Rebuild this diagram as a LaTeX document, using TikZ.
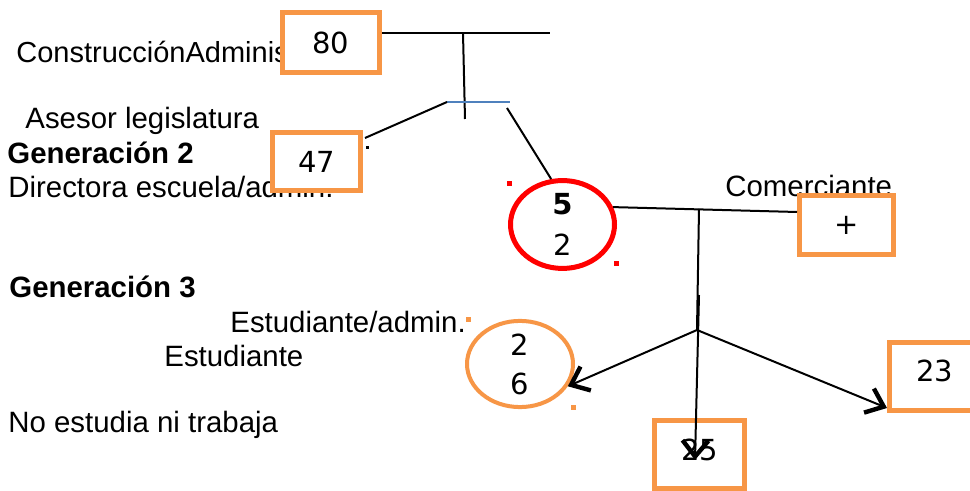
\documentclass[tikz,border=0pt]{standalone}
\usepackage{fontspec}
\setmainfont{Liberation Sans}
\newfontfamily\numfont{DejaVu Sans}
\usetikzlibrary{arrows.meta,shapes.geometric}
\definecolor{boxorange}{HTML}{F79646}
\definecolor{linkblue}{HTML}{4F81BD}

\begin{document}
\begin{tikzpicture}[x=0.5pt,y=-0.5pt,
		lbl/.style={anchor=base west,inner sep=0pt,font=\fontsize{14.7}{17}\selectfont},
		numbox/.style={draw=boxorange,line width=2.5pt,fill=white,inner sep=0pt,font=\numfont\fontsize{14.5}{17}\selectfont},
		numoval/.style={ellipse,fill=white,inner sep=0pt,align=center},
		link/.style={line width=1pt},
		barb/.style={link,-{Straight Barb[length=8pt,width=13pt,line width=2.2pt]}},
		dot/.style={inner sep=0pt,minimum size=2.5pt,fill}]
		%%%%% START %%%%%
		\useasboundingbox (0,0) rectangle (970,491);
		
		% texts
		\node[lbl,font=\fontsize{14.5}{17}\selectfont] (cons) at (16,63) {ConstrucciónAdminis};
		\node[lbl] (asesor) at (25,129) {Asesor legislatura};
		\node[lbl,font=\bfseries\fontsize{14.7}{17}\selectfont] (gen2) at (7,164) {Generación 2};
		\node[lbl] (directora) at (8,198) {Directora escuela/admin.};
		\node[lbl] (comerciante) at (725,197) {Comerciante};
		\node[lbl,font=\bfseries\fontsize{14.7}{17}\selectfont] (gen3) at (9,298) {Generación 3};
		\node[lbl] (estadmin) at (230,333) {Estudiante/admin.};
		\node[lbl] (estudiante) at (164,367) {Estudiante};
		\node[lbl] (noestudia) at (8,433) {No estudia ni trabaja};
		
		% boxes
		\node[numbox,minimum width=48.5pt,minimum height=30pt] (b80) at (331,42.5) {80};
		\node[numbox,minimum width=44pt,minimum height=29pt] (b47) at (316.5,161.5) {47};
		\node[numbox,minimum width=47pt,minimum height=29.5pt] (bplus) at (846.5,225) {+};
		\node[numbox,minimum width=45pt,minimum height=34pt,text depth=6pt] (b23) at (934.5,376.5) {23};
		\node[numbox,minimum width=45pt,minimum height=34pt,text depth=4.5pt] (b25) at (699.5,454.5) {25};
		
		% ovals
		\node[numoval,draw=red,line width=2.5pt,minimum width=52pt,minimum height=38pt,
			font=\numfont\fontsize{14.5}{20.5}\selectfont] (kid) at (562.5,224.5) {\textbf{5}\\2};
		\node[numoval,draw=boxorange,line width=2pt,minimum width=53pt,minimum height=43pt,
			font=\numfont\fontsize{14.5}{19.5}\selectfont] (oval) at (520,364) {2\\6};
		
		% small marks
		\node[dot,red] (rdotA) at (509,184) {};
		\node[dot,red] (rdotB) at (616,264) {};
		\node[dot,boxorange] (odotA) at (468,320) {};
		\node[dot,boxorange] (odotB) at (573,408) {};
		\node[dot,minimum size=1.5pt] (kdot) at (367,148) {};
		
		% connectors
		\coordinate (topR) at (550,33);
		\coordinate (topJ) at (463,33);
		\coordinate (topEnd) at (465,119);
		\coordinate (blueL) at (447,102);
		\coordinate (blueR) at (510,102);
		\coordinate (kidLink) at (507,108);
		\coordinate (midJ) at (699,209);
		\coordinate (midJ2) at (699,295);
		\coordinate (fork) at (697,330);
		
		\draw[link] (b80.east |- topR) -- (topR);
		\draw[link] (topJ) -- (topEnd);
		\draw[link,draw=linkblue] (blueL) -- (blueR);
		\draw[link] (blueL) -- ([xshift=1pt,yshift=-4pt]b47.north east);
		\draw[link] (kidLink) -- (kid.104);
		\draw[link] (kid.19) -- ([yshift=6.5pt]bplus.west);
		\draw[link] (midJ) -- (fork);
		\draw[barb] (fork) -- (oval.-25);
		\draw[barb] (fork) -- ([yshift=2.5pt]b23.south west);
		\draw[barb] (midJ2) -- ([xshift=-2.25pt,yshift=-2.75pt]b25.center);
		%%%%% END %%%%%
\end{tikzpicture}
\end{document}
